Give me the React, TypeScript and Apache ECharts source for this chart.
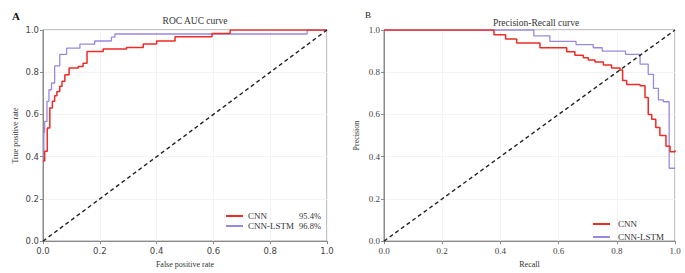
import React, { useEffect, useRef } from 'react';
import * as echarts from 'echarts';

// ROC points (FPR, TPR), step corners
const rocCnn: [number, number][] = [
  [0, 0.379], [0.006, 0.426], [0.015, 0.536], [0.024, 0.63], [0.033, 0.662], [0.041, 0.689],
  [0.049, 0.709], [0.059, 0.733], [0.067, 0.757], [0.077, 0.788], [0.092, 0.82], [0.124, 0.827],
  [0.141, 0.843], [0.155, 0.898], [0.212, 0.91], [0.294, 0.917], [0.353, 0.934], [0.40, 0.948],
  [0.465, 0.968], [0.595, 0.984], [0.659, 1.0], [1.0, 1.0],
];
const rocCnnLstm: [number, number][] = [
  [0, 0.40], [0.003, 0.514], [0.006, 0.567], [0.014, 0.662], [0.021, 0.717], [0.03, 0.749],
  [0.041, 0.83], [0.059, 0.885], [0.083, 0.914], [0.13, 0.933], [0.182, 0.948], [0.241, 0.966],
  [0.253, 0.981], [0.93, 1.0], [1.0, 1.0],
];
// Precision-Recall points (Recall, Precision)
const prCnn: [number, number][] = [
  [0, 1], [0.378, 0.977], [0.418, 0.957], [0.456, 0.939], [0.536, 0.916], [0.628, 0.897],
  [0.656, 0.88], [0.685, 0.869], [0.702, 0.858], [0.725, 0.849], [0.754, 0.834], [0.782, 0.82],
  [0.811, 0.811], [0.82, 0.761], [0.834, 0.742], [0.88, 0.736], [0.897, 0.68], [0.908, 0.6],
  [0.92, 0.577], [0.934, 0.538], [0.948, 0.5], [0.969, 0.449], [0.983, 0.423], [1.0, 0.43],
];
const prCnnLstm: [number, number][] = [
  [0, 1], [0.515, 0.972], [0.57, 0.946], [0.66, 0.931], [0.719, 0.916], [0.75, 0.9],
  [0.83, 0.885], [0.88, 0.838], [0.908, 0.79], [0.926, 0.723], [0.943, 0.669], [0.96, 0.66],
  [0.98, 0.345], [1.0, 0.345],
];
const diagonal: [number, number][] = [[0, 0], [1, 1]];
const seriesNames = ['CNN', 'CNN-LSTM'];
const aucLabels = ['95.4%', '96.8%'];
const titles = ['ROC AUC curve', 'Precision-Recall curve'];
const panelLetters = ['A', 'B'];

const RED = '#ee2b24';
const PURPLE = '#9a88e0';
const SERIF = '"Liberation Serif", "Times New Roman", serif';
const SANS = '"DejaVu Sans", sans-serif';
const AXIS = '#8a8a8a';

function makeAxis(gridIndex: number, name: string, nameGap: number, labelFont: string, margin: number) {
  return {
    type: 'value',
    gridIndex,
    min: 0,
    max: 1,
    interval: 0.2,
    name,
    nameLocation: 'middle',
    nameGap,
    nameTextStyle: { fontFamily: SERIF, fontSize: 8, color: '#333' },
    axisLine: { show: true, onZero: false, lineStyle: { color: AXIS, width: 1 } },
    axisTick: { show: true, length: 3, lineStyle: { color: AXIS } },
    axisLabel: {
      fontFamily: labelFont,
      fontSize: labelFont === SANS ? 8.5 : 9,
      color: '#444',
      margin,
      formatter: (v: number) => v.toFixed(1),
    },
    splitLine: { show: true, lineStyle: { color: '#f3f3f3', width: 1 } },
  };
}

export default function App() {
  const ref = useRef<HTMLDivElement>(null);
  useEffect(() => {
    const chart = echarts.init(ref.current!, null, { renderer: 'svg' });
    const option: any = {
      animation: false,
      backgroundColor: '#fff',
      title: [
        { text: panelLetters[0], left: 7, top: 5, textStyle: { fontFamily: SERIF, fontSize: 11, fontWeight: 'bold', color: '#111' } },
        { text: titles[0], left: 190, top: 11, textAlign: 'center', textStyle: { fontFamily: SERIF, fontSize: 9.5, fontWeight: 'normal', color: '#333' } },
        { text: panelLetters[1], left: 360, top: 5, textStyle: { fontFamily: SERIF, fontSize: 9, fontWeight: 'normal', color: '#222' } },
        { text: titles[1], left: 531, top: 13, textAlign: 'center', textStyle: { fontFamily: SERIF, fontSize: 9.5, fontWeight: 'normal', color: '#333' } },
      ],
      grid: [
        { left: 43, top: 30, width: 284, height: 212, show: true, borderColor: AXIS, borderWidth: 1, backgroundColor: 'transparent' },
        { left: 384, top: 30, width: 291, height: 217, show: true, borderColor: AXIS, borderWidth: 1, backgroundColor: 'transparent' },
      ],
      xAxis: [
        makeAxis(0, 'False positive rate', 18, SANS, 5),
        makeAxis(1, 'Recall', 13, SERIF, 5),
      ],
      yAxis: [
        makeAxis(0, 'True positive rate', 24, SANS, 4),
        makeAxis(1, 'Precision', 24, SERIF, 4),
      ],
      legend: [
        {
          data: seriesNames,
          orient: 'vertical',
          left: 226,
          top: 211.5,
          padding: 0,
          icon: 'rect',
          itemWidth: 17,
          itemHeight: 2,
          itemGap: 1,
          selectedMode: false,
          textStyle: {
            fontFamily: SERIF,
            fontSize: 9,
            color: '#333',
            rich: {
              n: { fontFamily: SERIF, fontSize: 9, color: '#333', width: 47, lineHeight: 11 },
              p: { fontFamily: SERIF, fontSize: 8.5, color: '#333', width: 26, align: 'right', lineHeight: 11 },
            },
          },
          formatter: (name: string) => `{n|${name}}{p|${aucLabels[seriesNames.indexOf(name)]}}`,
        },
        {
          data: seriesNames,
          orient: 'vertical',
          left: 593,
          top: 218.5,
          padding: 0,
          icon: 'rect',
          itemWidth: 17,
          itemHeight: 2,
          itemGap: 2,
          selectedMode: false,
          textStyle: { fontFamily: SERIF, fontSize: 9, color: '#333', lineHeight: 11, padding: [0, 0, 0, 3] },
        },
      ],
      series: [
        { name: seriesNames[1], type: 'line', xAxisIndex: 0, yAxisIndex: 0, data: rocCnnLstm, step: 'end', symbol: 'none', color: PURPLE, lineStyle: { color: PURPLE, width: 1.3 } },
        { name: seriesNames[0], type: 'line', xAxisIndex: 0, yAxisIndex: 0, data: rocCnn, step: 'end', symbol: 'none', color: RED, lineStyle: { color: RED, width: 1.5 } },
        { name: 'diag-a', type: 'line', xAxisIndex: 0, yAxisIndex: 0, data: diagonal, symbol: 'none', lineStyle: { color: '#222', width: 1.4, type: [4, 3] } },
        { name: seriesNames[1], type: 'line', xAxisIndex: 1, yAxisIndex: 1, data: prCnnLstm, step: 'end', symbol: 'none', color: PURPLE, lineStyle: { color: PURPLE, width: 1.3 } },
        { name: seriesNames[0], type: 'line', xAxisIndex: 1, yAxisIndex: 1, data: prCnn, step: 'end', symbol: 'none', color: RED, lineStyle: { color: RED, width: 1.5 } },
        { name: 'diag-b', type: 'line', xAxisIndex: 1, yAxisIndex: 1, data: diagonal, symbol: 'none', lineStyle: { color: '#222', width: 1.4, type: [4, 3] } },
      ],
    };
    chart.setOption(option);
    return () => chart.dispose();
  }, []);
  return (
    <div
      ref={ref}
      style={{ position: 'absolute', left: 0, top: 0, width: 685, height: 273, background: '#fff' }}
    />
  );
}
